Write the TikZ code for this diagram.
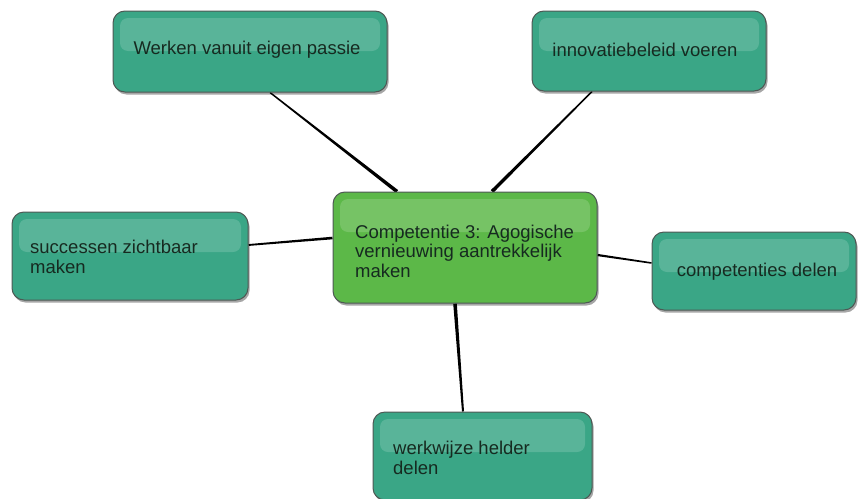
\documentclass[tikz,border=0pt]{standalone}
\usepackage{fontspec}
\setmainfont{Liberation Sans}
\usetikzlibrary{shadows,calc}
\pgfdeclarelayer{background}
\pgfsetlayers{background,main}
\definecolor{tealbase}{RGB}{58,166,134}
\definecolor{grnbase}{RGB}{92,184,72}
\definecolor{txtcol}{RGB}{22,42,32}
\definecolor{bordcol}{RGB}{78,88,84}
\tikzset{
  gbox/.style={draw=bordcol, line width=1pt, rounded corners=12pt, fill=#1, inner sep=0pt,
    drop shadow={shadow xshift=1.5pt, shadow yshift=-2.5pt, opacity=0.35, fill=black},
    path picture={\fill[white,opacity=0.16,rounded corners=8pt]
      ([xshift=7pt,yshift=-7pt]path picture bounding box.north west) rectangle
      ([xshift=-7pt,yshift=-40pt]path picture bounding box.north east);}},
  lbl/.style={font=\fontsize{18.5}{19.5}\selectfont, text=txtcol, align=left, inner sep=0pt},
}
\newcommand{\taperlink}[4]{%
  \fill[black] ($(#1)!#3!90:(#2)$) -- ($(#2)!#4!-90:(#1)$) -- ($(#2)!#4!90:(#1)$) -- ($(#1)!#3!-90:(#2)$) -- cycle;}
\begin{document}
\begin{tikzpicture}[x=1pt,y=-1pt]
\useasboundingbox (0,0) rectangle (859,498);
% boxes
\node[gbox=tealbase, minimum width=274pt, minimum height=81pt] (tl) at (250,51.5) {};
\node[lbl] (tlt) at (247,50) {Werken vanuit eigen passie};
\node[gbox=tealbase, minimum width=234pt, minimum height=80pt] (tr) at (649,51) {};
\node[lbl] (trt) at (645,50) {innovatiebeleid voeren};
\node[gbox=grnbase, minimum width=264pt, minimum height=111pt] (cen) at (465,247.5) {};
\node[lbl, anchor=west] (cent) at (355,251) {Competentie 3: Agogische\\vernieuwing aantrekkelijk\\maken};
\node[gbox=tealbase, minimum width=236pt, minimum height=88pt] (ls) at (130,256) {};
\node[lbl, anchor=west] (lst) at (30,257) {successen zichtbaar\\maken};
\node[gbox=tealbase, minimum width=204pt, minimum height=78pt] (rs) at (754,271) {};
\node[lbl] (rst) at (757,272) {competenties delen};
\node[gbox=tealbase, minimum width=219pt, minimum height=88pt] (bt) at (482.5,456) {};
\node[lbl, anchor=west] (btt) at (393,458) {werkwijze helder\\delen};
% connector ends
\coordinate (a1) at ([xshift=20pt]tl.south);
\coordinate (b1) at ([xshift=-68pt]cen.north);
\coordinate (a2) at ([xshift=-57pt]tr.south);
\coordinate (b2) at ([xshift=27pt]cen.north);
\coordinate (a3) at ([yshift=11pt]ls.east);
\coordinate (b3) at ([yshift=9.5pt]cen.west);
\coordinate (a4) at ([yshift=8pt]rs.west);
\coordinate (b4) at ([yshift=-7.5pt]cen.east);
\coordinate (a5) at ([xshift=-19.5pt]bt.north);
\coordinate (b5) at ([xshift=-10pt]cen.south);
\begin{pgfonlayer}{background}
\taperlink{a1}{b1}{0.7pt}{1.8pt}
\taperlink{a2}{b2}{0.7pt}{1.8pt}
\taperlink{a3}{b3}{0.9pt}{1.3pt}
\taperlink{a4}{b4}{0.8pt}{1.1pt}
\taperlink{a5}{b5}{1.0pt}{1.8pt}
\end{pgfonlayer}
\end{tikzpicture}
\end{document}
